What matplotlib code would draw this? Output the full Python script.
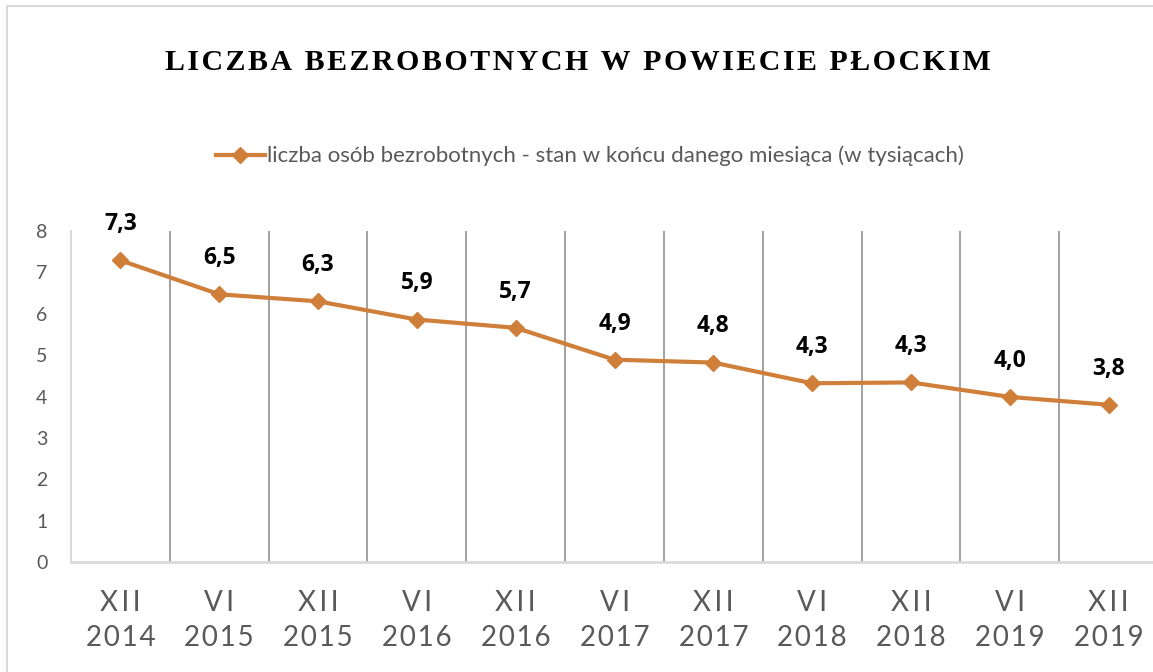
import matplotlib
matplotlib.use("Agg")
import matplotlib.pyplot as plt
from matplotlib.patches import Rectangle

months = ["XII", "VI", "XII", "VI", "XII", "VI", "XII", "VI", "XII", "VI", "XII"]
years = ["2014", "2015", "2015", "2016", "2016", "2017", "2017", "2018", "2018", "2019", "2019"]
unemployed = [7.29, 6.47, 6.30, 5.86, 5.66, 4.89, 4.82, 4.32, 4.34, 3.99, 3.80]
value_labels = ["7,3", "6,5", "6,3", "5,9", "5,7", "4,9", "4,8", "4,3", "4,3", "4,0", "3,8"]

title = "LICZBA BEZROBOTNYCH W POWIECIE PŁOCKIM"
series_name = "liczba osób bezrobotnych - stan w końcu danego miesiąca (w tysiącach)"

ORANGE = "#CF7F3A"
GRID = "#9a9a9a"
LIGHT = "#d9d9d9"
TEXT = "#595959"


def spaced(s, gap="\u200a"):
    return gap.join(s)


fig = plt.figure(figsize=(11.53, 6.72), dpi=100)
fig.patches.append(Rectangle((7 / 1153, -0.1), 1.2, (672 - 6) / 672 + 0.1,
                             transform=fig.transFigure, fill=False,
                             edgecolor=LIGHT, linewidth=1.5))

ax = fig.add_axes([71 / 1153, 110 / 672, 1087 / 1153, 331 / 672])
x = list(range(len(unemployed)))
line, = ax.plot(x, unemployed, color=ORANGE, linewidth=3, marker="D",
                markersize=8, label=series_name, zorder=3)

for xi, yi, lab in zip(x, unemployed, value_labels):
    ax.annotate(lab, (xi, yi), xytext=(0, 26), textcoords="offset points",
                ha="center", va="center", fontsize=16.5, fontweight="bold",
                family=["Open Sans", "DejaVu Sans"], color="black")

ax.set_xlim(-0.5, len(x) - 0.5)
ax.set_ylim(0, 8)
ax.set_yticks(range(0, 9))
ax.tick_params(axis="y", length=0, pad=17, labelsize=14, labelcolor=TEXT)
for t in ax.get_yticklabels():
    t.set_family(["Lato", "DejaVu Sans"])

ax.set_xticks(x)
ax.set_xticklabels([spaced(m, "\u200a\u200a") + "\n" + spaced(y, "\u200a") for m, y in zip(months, years)],
                   family=["Lato", "DejaVu Sans"], fontsize=20, color=TEXT, linespacing=1.45)
ax.tick_params(axis="x", length=0, pad=20)

for b in [i + 0.5 for i in x[:-1]]:
    ax.axvline(b, color=GRID, linewidth=1.3, zorder=1)

for side in ["top", "right"]:
    ax.spines[side].set_visible(False)
ax.spines["left"].set_color(LIGHT)
ax.spines["left"].set_linewidth(1.5)
ax.spines["bottom"].set_color(LIGHT)
ax.spines["bottom"].set_linewidth(2)

fig.text(578 / 1153, 1 - 62 / 672, spaced(title, "\u200a"), ha="center", va="center",
         family=["Liberation Serif", "DejaVu Serif"], fontweight="bold", fontsize=21.5)

leg = fig.legend(handles=[line], loc="center", bbox_to_anchor=(590 / 1153, 1 - 156 / 672),
                 frameon=False, handlelength=2.2, handletextpad=0.1,
                 prop={"family": ["Lato", "DejaVu Sans"], "size": 16})
for t in leg.get_texts():
    t.set_color(TEXT)

fig.savefig("out.png", dpi=100)
